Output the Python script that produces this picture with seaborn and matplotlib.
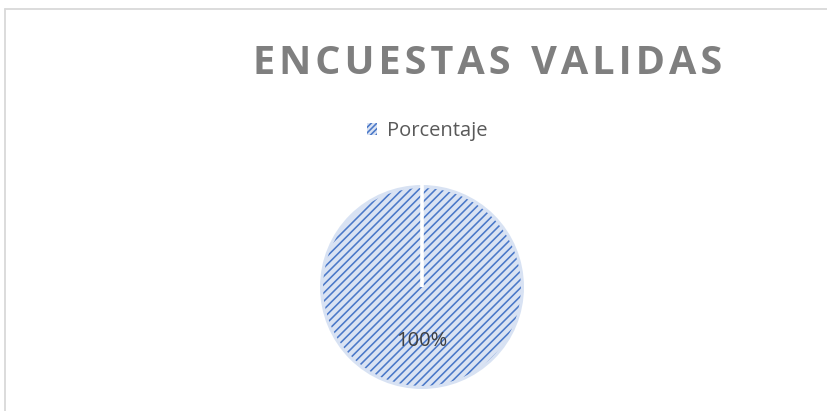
import matplotlib
matplotlib.use("Agg")
import matplotlib.pyplot as plt
import seaborn as sns
from matplotlib.lines import Line2D
from matplotlib.patches import Patch

categories = ["Porcentaje"]
values = [100]
labels = ["100%"]
title = "ENCUESTAS VALIDAS"

sns.set_theme(style="white")
plt.rcParams["font.family"] = ["Open Sans", "DejaVu Sans"]
plt.rcParams["hatch.linewidth"] = 1.15

W, H = 828, 411
fig = plt.figure(figsize=(W / 100, H / 100), dpi=100)
fig.patch.set_facecolor("white")

# chart border (cropped on right and bottom)
fig.add_artist(Line2D([5.5 / W, 1.0], [1 - 9.5 / H, 1 - 9.5 / H], transform=fig.transFigure,
                      color="#d9d9d9", lw=1.3))
fig.add_artist(Line2D([5.5 / W, 5.5 / W], [0, 1 - 9.5 / H], transform=fig.transFigure,
                      color="#d9d9d9", lw=1.3))

cx, cy, r = 422, 287, 102
ax = fig.add_axes([(cx - r) / W, (H - cy - r) / H, 2 * r / W, 2 * r / H])

# soft glow at rim
ax.add_patch(plt.Circle((0, 0), 1.0, color="#a9c0e6", alpha=0.45, lw=0, zorder=0))

# hatched fill (hatch takes the edge colour)
wedges, _ = ax.pie(values, startangle=90, counterclock=False, radius=0.97,
                   colors=["#dae3f3"],
                   wedgeprops=dict(edgecolor="#4a78c8", linewidth=0, hatch="////"))
# white slice edge from the centre to the start angle
ax.plot([0, 0], [0, 1.0], color="white", lw=2.6, solid_capstyle="butt", zorder=5)

for t, v in zip(labels, values):
    ax.text(0.0, -0.53, t, ha="center", va="center", fontsize=14.5, color="#404040", zorder=6)
ax.set_xlim(-1, 1)
ax.set_ylim(-1, 1)
ax.set_aspect("auto")
ax.axis("off")

fig.text(488 / W, 1 - 64 / H, "\u200a".join(title).replace("\u200a \u200a", "  "),
         ha="center", va="center", fontsize=28.5, fontweight="bold", color="#7f7f7f")

handles = [Patch(facecolor="#dae3f3", edgecolor="#4a78c8", hatch="//////", lw=0)]
leg = fig.legend(handles, categories, loc="center", bbox_to_anchor=(427 / W, 1 - 131 / H),
                 frameon=False, handlelength=0.5, handleheight=0.5, handletextpad=0.5,
                 prop=dict(size=14.5))
for t in leg.get_texts():
    t.set_color("#595959")

fig.savefig("out.png", dpi=100)
